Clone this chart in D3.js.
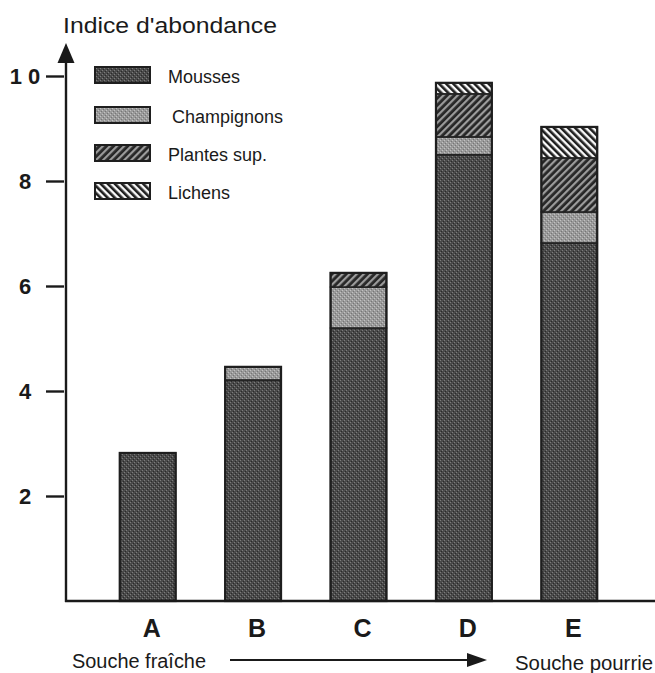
<!DOCTYPE html>
<html>
<head>
<meta charset="utf-8">
<script src="https://cdnjs.cloudflare.com/ajax/libs/d3/7.8.5/d3.min.js"></script>
<style>
  body { margin: 0; background: #fff; }
  svg { display: block; font-family: "Liberation Sans", Arial, sans-serif; }
</style>
</head>
<body>
<svg id="chart" width="655" height="673"></svg>
<script>
// stumps, from fresh to rotten
const stumps = ["A", "B", "C", "D", "E"];
const groups = ["Mousses", "Champignons", "Plantes sup.", "Lichens"];
// abundance index per group (stacked bottom -> top)
const mousses     = [2.82, 4.21, 5.20, 8.50, 6.82];
const champignons = [0.00, 0.25, 0.78, 0.34, 0.59];
const plantes     = [0.00, 0.00, 0.27, 0.82, 1.03];
const lichens     = [0.00, 0.00, 0.00, 0.21, 0.59];
const yTicks = [2, 4, 6, 8, 10];
const yTickLabels = ["2", "4", "6", "8", "1 0"];

class AbundancePlot {

    constructor(svg_id) {
        this.svg = d3.select("#" + svg_id);
        this.makePatterns();

        const x = d3.scaleBand().domain(stumps)
            .range([95, 622]).paddingInner(0.47).paddingOuter(0.235);
        const y = d3.scaleLinear().domain([0, 10]).range([601, 76]);
        const x0 = 66;

        // rows for the stack
        const rows = stumps.map((s, i) => ({
            stump: s,
            "Mousses": mousses[i],
            "Champignons": champignons[i],
            "Plantes sup.": plantes[i],
            "Lichens": lichens[i]
        }));
        const stacked = d3.stack().keys(groups)(rows);

        // bars
        const layers = this.svg.append("g").selectAll("g")
            .data(stacked).enter().append("g")
            .attr("fill", (d, i) => "url(#pat" + i + ")");
        layers.selectAll("rect")
            .data(d => d.filter(v => v[1] - v[0] > 0))
            .enter().append("rect")
            .attr("x", d => x(d.data.stump))
            .attr("width", x.bandwidth())
            .attr("y", d => y(d[1]))
            .attr("height", d => y(d[0]) - y(d[1]))
            .attr("stroke", "#222")
            .attr("stroke-width", 1.6);
        // outer outline of each bar
        this.svg.append("g").selectAll("rect")
            .data(rows).enter().append("rect")
            .attr("x", d => x(d.stump))
            .attr("width", x.bandwidth())
            .attr("y", d => y(d3.sum(groups, g => d[g])))
            .attr("height", d => y(0) - y(d3.sum(groups, g => d[g])))
            .attr("fill", "none")
            .attr("stroke", "#1e1e1e")
            .attr("stroke-width", 2.2);

        // y axis: ticks + labels, own line with arrow
        const yAxis = d3.axisLeft(y).tickValues(yTicks).tickSize(20)
            .tickFormat((d, i) => yTickLabels[i]);
        const gy = this.svg.append("g").attr("transform", "translate(" + x0 + ",0)").call(yAxis);
        gy.select(".domain").remove();
        gy.selectAll(".tick line").attr("x1", -2).attr("stroke", "#1a1a1a").attr("stroke-width", 2.4);
        gy.selectAll(".tick text")
            .attr("x", -41).attr("text-anchor", "middle")
            .attr("font-size", 22).attr("font-weight", "bold").attr("fill", "#1a1a1a");

        this.svg.append("line")
            .attr("x1", x0).attr("x2", x0).attr("y1", y(0) + 1).attr("y2", 60)
            .attr("stroke", "#1a1a1a").attr("stroke-width", 2.4);
        this.svg.append("path")
            .attr("d", "M" + (x0 - 8.5) + ",63 L" + x0 + ",43 L" + (x0 + 8.5) + ",63 Z")
            .attr("fill", "#1a1a1a");

        // x axis
        const xAxis = d3.axisBottom(x).tickSize(0).tickPadding(18);
        const gx = this.svg.append("g").attr("transform", "translate(0," + y(0) + ")").call(xAxis);
        gx.select(".domain").remove();
        gx.selectAll(".tick text")
            .attr("x", 4)
            .attr("font-size", 25).attr("font-weight", "bold").attr("fill", "#1a1a1a");
        this.svg.append("line")
            .attr("x1", x0 - 1).attr("x2", 655).attr("y1", y(0)).attr("y2", y(0))
            .attr("stroke", "#1a1a1a").attr("stroke-width", 2.6);

        // title
        this.svg.append("text")
            .attr("x", 63).attr("y", 33)
            .attr("font-size", 22).attr("fill", "#1a1a1a")
            .attr("textLength", 214).attr("lengthAdjust", "spacingAndGlyphs")
            .text("Indice d'abondance");

        // fresh -> rotten arrow at the bottom
        this.svg.append("text")
            .attr("x", 72).attr("y", 668).attr("font-size", 20).attr("fill", "#1a1a1a")
            .attr("textLength", 134).attr("lengthAdjust", "spacingAndGlyphs")
            .text("Souche fraîche");
        this.svg.append("text")
            .attr("x", 515).attr("y", 670).attr("font-size", 20).attr("fill", "#1a1a1a")
            .attr("textLength", 138).attr("lengthAdjust", "spacingAndGlyphs")
            .text("Souche pourrie");
        this.svg.append("line")
            .attr("x1", 230).attr("x2", 470).attr("y1", 660).attr("y2", 660)
            .attr("stroke", "#1a1a1a").attr("stroke-width", 2);
        this.svg.append("path")
            .attr("d", "M467,653 L487,660 L467,667 Z").attr("fill", "#1a1a1a");

        this.makeLegend();
    }

    makePatterns() {
        const defs = this.svg.append("defs");

        // mousses: dark stipple
        let p = defs.append("pattern").attr("id", "pat0")
            .attr("patternUnits", "userSpaceOnUse").attr("width", 4).attr("height", 4);
        p.append("rect").attr("width", 4).attr("height", 4).attr("fill", "#4a4a4a");
        [[0, 0], [2, 2]].forEach(c => p.append("rect").attr("x", c[0]).attr("y", c[1])
            .attr("width", 1).attr("height", 1).attr("fill", "#7c7c7c"));
        [[1, 3], [3, 1]].forEach(c => p.append("rect").attr("x", c[0]).attr("y", c[1])
            .attr("width", 1).attr("height", 1).attr("fill", "#2a2a2a"));

        // champignons: light stipple
        p = defs.append("pattern").attr("id", "pat1")
            .attr("patternUnits", "userSpaceOnUse").attr("width", 4).attr("height", 4);
        p.append("rect").attr("width", 4).attr("height", 4).attr("fill", "#9a9a9a");
        [[0, 0], [2, 2]].forEach(c => p.append("rect").attr("x", c[0]).attr("y", c[1])
            .attr("width", 1).attr("height", 1).attr("fill", "#c2c2c2"));
        [[1, 3], [3, 1]].forEach(c => p.append("rect").attr("x", c[0]).attr("y", c[1])
            .attr("width", 1).attr("height", 1).attr("fill", "#767676"));

        // plantes sup.: dark with grey "////"
        p = defs.append("pattern").attr("id", "pat2")
            .attr("patternUnits", "userSpaceOnUse").attr("width", 5).attr("height", 5)
            .attr("patternTransform", "rotate(45)");
        p.append("rect").attr("width", 5).attr("height", 5).attr("fill", "#262626");
        p.append("rect").attr("width", 2.2).attr("height", 5).attr("fill", "#9c9c9c");

        // lichens: white with black "\\\\"
        p = defs.append("pattern").attr("id", "pat3")
            .attr("patternUnits", "userSpaceOnUse").attr("width", 5).attr("height", 5)
            .attr("patternTransform", "rotate(-45)");
        p.append("rect").attr("width", 5).attr("height", 5).attr("fill", "#fafafa");
        p.append("rect").attr("width", 2.6).attr("height", 5).attr("fill", "#1e1e1e");
    }

    makeLegend() {
        const rowsY = [67, 107, 145, 183];
        const textX = [168, 172, 168, 168];
        const lg = this.svg.append("g").selectAll("g")
            .data(groups).enter().append("g");
        lg.append("rect")
            .attr("x", 95).attr("y", (d, i) => rowsY[i])
            .attr("width", 55).attr("height", 16)
            .attr("fill", (d, i) => "url(#pat" + i + ")")
            .attr("stroke", "#1e1e1e").attr("stroke-width", 2);
        lg.append("text")
            .attr("x", (d, i) => textX[i]).attr("y", (d, i) => rowsY[i] + 16)
            .attr("font-size", 18).attr("fill", "#1a1a1a")
            .text(d => d);
    }
}

// wait for the DOM
function whenDocumentLoaded(action) {
    if (document.readyState === "loading") {
        document.addEventListener("DOMContentLoaded", action);
    } else {
        action();
    }
}

whenDocumentLoaded(() => {
    plot_object = new AbundancePlot("chart");
});
</script>
</body>
</html>
